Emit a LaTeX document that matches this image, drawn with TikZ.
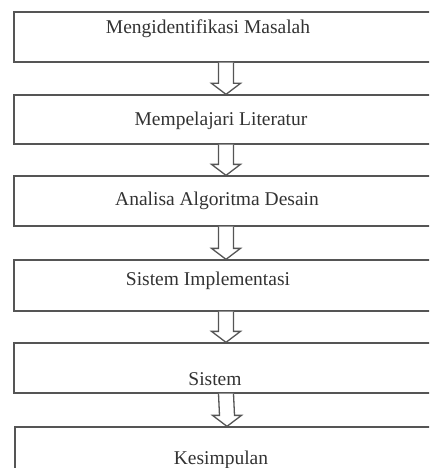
\documentclass[tikz,border=0pt]{standalone}
\usepackage{fontspec}
\setmainfont{Liberation Serif}
\usetikzlibrary{calc}
\definecolor{LineCol}{RGB}{85,85,85}
\definecolor{TextCol}{RGB}{50,50,50}
\tikzstyle{stepbox} = [rectangle, draw=LineCol, line width=1.3pt, minimum width=424pt, minimum height=50pt, inner sep=0pt]
\tikzstyle{steptext} = [anchor=base, text=TextCol, font=\fontsize{19.5}{22}\selectfont]
\tikzstyle{blockarrow} = [draw=LineCol, line width=1.3pt, line join=miter, fill=white,
    to path={($(\tikztostart)+(-7.5,0)$) -- ($(\tikztotarget)+(-7.5,-11)$) -- ($(\tikztotarget)+(-14.5,-11)$) -- (\tikztotarget) -- ($(\tikztotarget)+(14.5,-11)$) -- ($(\tikztotarget)+(7.5,-11)$) -- ($(\tikztostart)+(7.5,0)$)}]

\begin{document}
\begin{tikzpicture}[x=1pt,y=-1pt]

                    \clip (0,0) rectangle (429,468);

                    \node[stepbox] (b1) at (226,37) {};
                    \node[stepbox, minimum height=49pt] (b2) at (226,119.5) {};
                    \node[stepbox] (b3) at (226,201) {};
                    \node[stepbox, minimum height=51pt] (b4) at (226,285.5) {};
                    \node[stepbox] (b5) at (226,368) {};
                    \node[stepbox] (b6) at (227,452) {};

                    \node[steptext] (t1) at (208,34) {Mengidentifikasi Masalah};
                    \node[steptext] (t2) at (221,125) {Mempelajari Literatur};
                    \node[steptext] (t3) at (217,205) {Analisa Algoritma Desain};
                    \node[steptext] (t4) at (208,285) {Sistem Implementasi};
                    \node[steptext] (t5) at (215,385) {Sistem};
                    \node[steptext] (t6) at (221,464) {Kesimpulan};

                    \draw [blockarrow] (b1.south) to (b2.north);
                    \draw [blockarrow] (b2.south) to (b3.north);
                    \draw [blockarrow] (b3.south) to (b4.north);
                    \draw [blockarrow] (b4.south) to (b5.north);
                    \draw [blockarrow] (b5.south) to (b6.north);

                \end{tikzpicture}
\end{document}
